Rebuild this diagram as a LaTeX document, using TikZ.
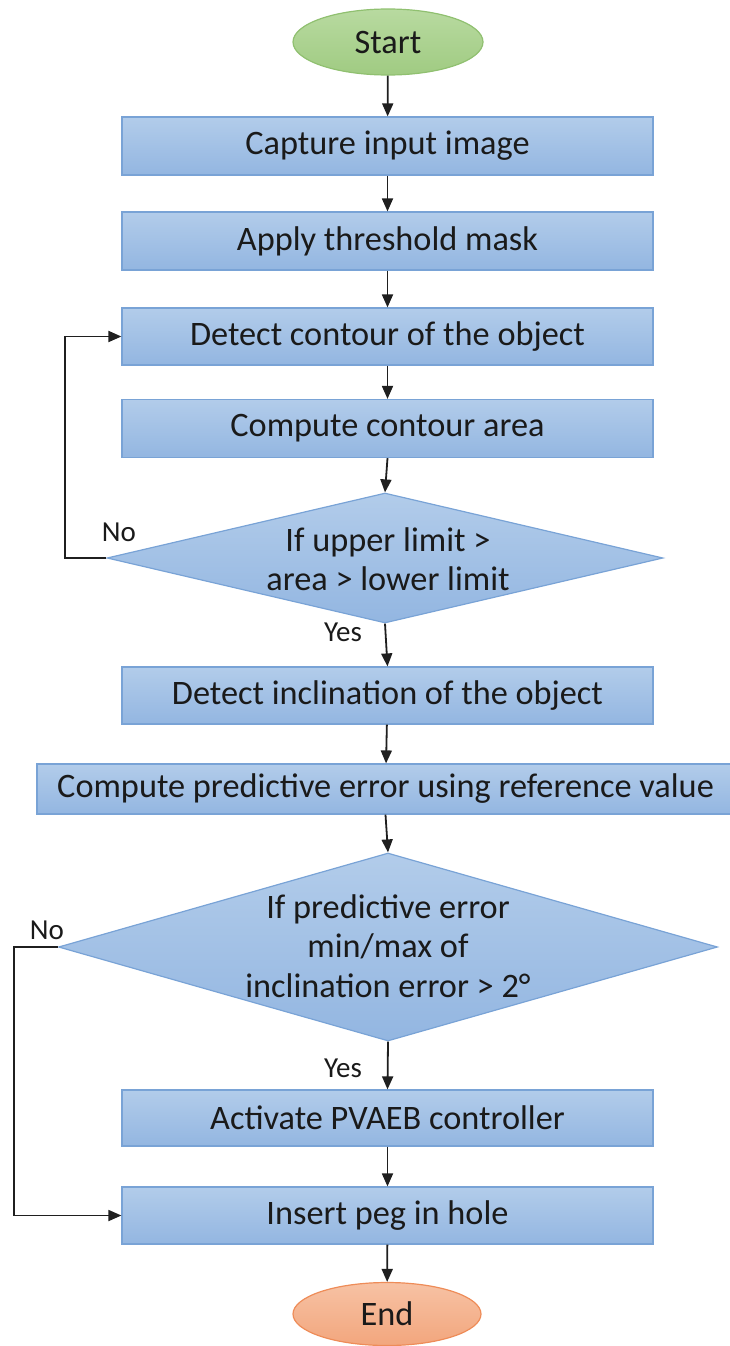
\documentclass[tikz,border=0pt]{standalone}
\usepackage{fontspec}
\setmainfont{Carlito}
\usetikzlibrary{shapes.geometric,arrows.meta}

\definecolor{boxtop}{HTML}{B2CCEA}
\definecolor{boxbot}{HTML}{93B6E1}
\definecolor{boxline}{HTML}{79A3D6}
\definecolor{starttop}{HTML}{B8DAA0}
\definecolor{startbot}{HTML}{A0CB82}
\definecolor{startline}{HTML}{90C070}
\definecolor{endtop}{HTML}{F7C2A4}
\definecolor{endbot}{HTML}{F2A67D}
\definecolor{endline}{HTML}{EE8C58}
\definecolor{ink}{HTML}{1A1A1A}

\tikzset{
  maintext/.style={font=\fontsize{34.3}{39.5}\selectfont, text=ink},
  stepbox/.style={rectangle, draw=boxline, line width=1.2pt, top color=boxtop, bottom color=boxbot,
                  inner sep=0pt, minimum width=531pt, maintext},
  decision/.style={diamond, draw=boxline, line width=1.2pt, top color=boxtop, bottom color=boxbot,
                   inner sep=0pt},
  terminal/.style={ellipse, line width=1.2pt, inner sep=0pt, maintext},
  flow/.style={draw=black!88, line width=1.8pt, -{Triangle[length=13pt,width=11pt]}},
  lbl/.style={font=\fontsize{29}{34}\selectfont, text=ink, inner sep=0pt},
}

\begin{document}
\begin{tikzpicture}[x=1pt,y=-1pt]
\useasboundingbox (0,0) rectangle (729,1346);

% terminals
\node[terminal, draw=startline, top color=starttop, bottom color=startbot,
      minimum width=190pt, minimum height=66pt] (start) at (388,42) {Start};
\node[terminal, draw=endline, top color=endtop, bottom color=endbot,
      minimum width=188pt, minimum height=63pt] (stop) at (387,1314) {End};

% process steps
\node[stepbox, minimum height=58pt] (capture) at (387.5,146) {Capture input image};
\node[stepbox, minimum height=58pt] (thresh) at (387.5,241) {Apply threshold mask};
\node[stepbox, minimum height=57pt] (contour) at (387.5,336.5) {Detect contour of the object};
\node[stepbox, minimum height=58pt] (area) at (387.5,428.5) {Compute contour area};
\node[stepbox, minimum height=57pt] (incl) at (387.5,695.5) {Detect inclination of the object};
\node[stepbox, minimum width=697pt, minimum height=50pt] (pred) at (385.5,789)
     {Compute predictive error using reference value};
\node[stepbox, minimum height=56pt] (pvaeb) at (387.5,1118) {Activate PVAEB controller};
\node[stepbox, minimum height=57pt] (peg) at (387.5,1215.5) {Insert peg in hole};

% decisions
\node[decision, minimum width=556pt, minimum height=130pt] (lim) at (385,558) {};
\node[maintext, align=center, inner sep=0pt] at (388,559) {If upper limit >\\area > lower limit};
\node[decision, minimum width=659pt, minimum height=188pt] (err) at (388,947) {};
\node[maintext, align=center, inner sep=0pt] at (388,946)
     {If predictive error\\min/max of\\inclination error > 2°};

% main flow
\draw[flow] (start) -- (capture);
\draw[flow] (capture) -- (thresh);
\draw[flow] (thresh) -- (contour);
\draw[flow] (contour) -- (area);
\draw[flow] (area.south) -- (lim.north);
\draw[flow] (lim.south) -- (incl.north);
\draw[flow] (incl) -- (pred);
\draw[flow] (pred.south) -- (err.north);
\draw[flow] (err.south) -- (pvaeb.north);
\draw[flow] (pvaeb) -- (peg);
\draw[flow] (peg) -- (stop);

% feedback branches
\coordinate (loopA) at (65,558);
\draw[flow] (lim.west) -- (loopA) |- (contour.west);
\coordinate (loopB) at (14,947);
\draw[flow] (err.west) -- (loopB) |- (peg.west);

% branch labels
\node[lbl] at (119,532) {No};
\node[lbl] at (343,632) {Yes};
\node[lbl] at (47,930) {No};
\node[lbl] at (343,1068) {Yes};
\end{tikzpicture}
\end{document}
